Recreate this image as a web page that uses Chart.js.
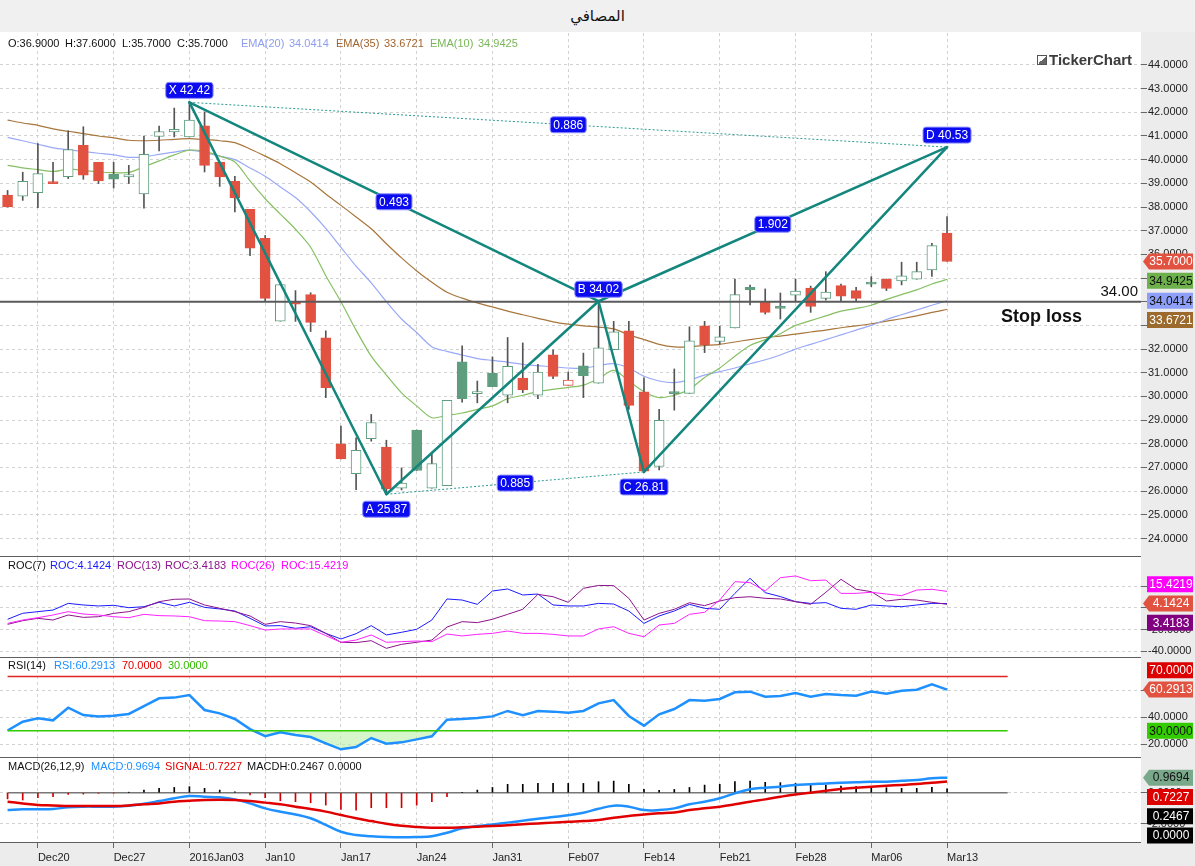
<!DOCTYPE html>
<html>
<head>
<meta charset="utf-8">
<title>المصافي</title>
<script src="https://cdn.jsdelivr.net/npm/chart.js@4.4.1/dist/chart.umd.min.js"></script>
<style>
  body { margin: 0; width: 1195px; height: 866px; position: relative; overflow: hidden; background: #fff; font-family: "Liberation Sans", Arial, sans-serif; }
  #title { position: absolute; left: 0; top: 0; width: 1195px; height: 32px; background: #f0f0f0; display: flex; align-items: center; justify-content: center; font: 15px "DejaVu Sans", sans-serif; color: #111; }
  #axisCol { position: absolute; left: 1141px; top: 32px; width: 54px; height: 834px; background: #ececec; }
  #xBand { position: absolute; left: 0; top: 842px; width: 1195px; height: 24px; background: #ececec; }
  .sep { position: absolute; left: 0; width: 1141px; height: 1px; background: #5f5f5f; }
  canvas { position: absolute; left: 0; }
  .hdr { position: absolute; left: 0; width: 1100px; height: 13px; font-size: 11px; line-height: 13px; white-space: nowrap; }
  .hdr span { position: absolute; top: 0; }
  #logo { position: absolute; left: 1037px; top: 51px; font: bold 15px "Liberation Sans", Arial, sans-serif; color: #3c3c3c; white-space: nowrap; }
  #logo i { display: inline-block; width: 8px; height: 8px; border: 1px solid #555; margin-right: 2px; background: linear-gradient(135deg, #fff 50%, #666 50%); }
</style>
</head>
<body>
<div id="title">المصافي</div>
<div id="axisCol"></div>
<div id="xBand"></div>
<canvas id="mainChart" width="1195" height="523" style="top:33px"></canvas>
<canvas id="rocChart" width="1195" height="100" style="top:557px"></canvas>
<canvas id="rsiChart" width="1195" height="99" style="top:658px"></canvas>
<canvas id="macdChart" width="1195" height="108" style="top:758px"></canvas>
<div class="sep" style="top:556px"></div>
<div class="sep" style="top:657px"></div>
<div class="sep" style="top:757px"></div>
<div class="sep" style="top:842px"></div>
<div class="hdr" id="hMain" style="top:37px"></div>
<div class="hdr" id="hRoc" style="top:559px"></div>
<div class="hdr" id="hRsi" style="top:659px"></div>
<div class="hdr" id="hMacd" style="top:760px"></div>
<div id="logo"><i></i>TickerChart</div>

<script>
// week ticks (index of first session of each week) and their labels
const dateTicks = [2, 7, 12, 17, 22, 27, 32, 37, 42, 47, 52, 57, 62];
const dateLabels = ['Dec20', 'Dec27', '2016Jan03', 'Jan10', 'Jan17', 'Jan24', 'Jan31', 'Feb07', 'Feb14', 'Feb21', 'Feb28', 'Mar06', 'Mar13'];

// daily candles
const openP = [38.5,38.46,38.61,39.06,39.28,40.61,39.89,39.38,39.27,38.55,
  40.98,41.17,40.96,41.43,39.9,39.08,37.9,36.68,33.18,34.0,
  34.3,32.47,28.0,26.74,28.22,27.86,26.13,28.58,26.13,26.23,
  31.46,30.12,30.99,30.05,30.78,30.05,31.76,30.47,31.29,30.56,
  31.97,32.77,30.19,27.04,30.19,30.13,32.98,32.32,32.89,34.61,
  34.0,33.79,34.28,34.58,34.14,34.68,34.47,34.81,34.96,34.88,
  34.95,35.34,36.9];
const highP = [38.7,39.47,40.68,39.89,41.22,41.39,39.89,39.89,39.76,41.0,
  41.42,42.18,42.42,42.02,39.9,39.3,37.9,36.8,34.85,34.47,
  34.38,32.77,28.75,28.25,29.24,28.15,26.98,28.58,27.64,29.83,
  32.14,30.65,31.67,32.49,32.26,31.36,31.97,31.03,31.83,34.02,
  33.17,33.17,30.79,29.45,31.16,32.94,33.17,32.97,34.96,34.7,
  34.54,34.37,34.96,34.66,35.27,34.75,34.61,35.06,34.96,35.67,
  35.67,36.47,37.6];
const lowP = [38.0,38.28,37.97,38.99,39.2,39.17,38.99,38.8,38.99,37.95,
  40.37,40.96,40.96,39.48,38.87,37.79,35.95,34.04,33.18,33.17,
  32.74,29.95,27.36,26.06,28.11,25.87,26.05,26.87,26.13,26.23,
  29.76,29.73,30.41,29.73,30.16,29.9,30.75,30.47,29.95,30.56,
  31.97,29.45,26.81,26.9,29.42,30.13,31.85,32.21,32.89,33.86,
  33.48,33.27,34.04,33.55,34.07,34.04,34.04,34.64,34.47,34.71,
  34.95,35.07,35.7];
const closeP = [38.0,39.08,39.41,38.99,40.43,39.35,39.1,39.18,39.37,40.23,
  41.19,41.28,41.67,39.76,39.27,38.38,36.26,34.14,34.72,33.9,
  33.13,30.37,27.36,27.72,28.9,26.09,26.34,26.87,27.16,29.83,
  29.91,30.19,30.41,31.27,30.27,31.03,30.84,30.69,30.88,32.05,
  32.73,29.62,26.84,28.99,30.12,32.35,32.18,32.52,34.3,34.5,
  33.55,33.72,34.45,33.8,34.41,34.23,34.14,34.74,34.56,35.09,
  35.27,36.37,35.7];

// moving averages
const ema20 = [40.94,40.8,40.65,40.5,40.42,40.35,40.27,40.2,40.1,40.12,
  40.22,40.32,40.4,40.3,40.15,40.0,39.65,39.3,38.85,38.4,
  37.8,37.1,36.3,35.5,34.8,34.0,33.27,32.7,32.1,31.9,
  31.75,31.6,31.52,31.45,31.35,31.3,31.25,31.2,31.19,31.3,
  31.38,31.2,30.85,30.65,30.58,30.7,30.9,31.05,31.2,31.38,
  31.55,31.75,32.0,32.2,32.4,32.6,32.8,33.0,33.25,33.45,
  33.65,33.85,34.0414];
const ema35 = [41.67,41.55,41.45,41.3,41.2,41.1,41.0,40.92,40.82,40.8,
  40.82,40.86,40.89,40.85,40.8,40.72,40.45,40.15,39.83,39.45,
  39.06,38.55,38.07,37.58,37.08,36.45,35.85,35.3,34.82,34.4,
  34.15,33.95,33.78,33.6,33.45,33.3,33.15,33.05,32.98,32.93,
  32.85,32.6,32.4,32.2,32.09,32.1,32.15,32.2,32.3,32.4,
  32.49,32.55,32.63,32.72,32.8,32.9,32.98,33.07,33.18,33.28,
  33.4,33.55,33.6721];
const ema10 = [39.76,39.65,39.58,39.5,39.6,39.55,39.48,39.45,39.46,39.7,
  39.95,40.2,40.4,40.35,40.15,39.9,39.1,38.35,37.7,37.06,
  36.3,35.1,34.0,32.8,31.7,30.9,30.15,29.6,29.1,29.2,
  29.3,29.45,29.6,29.9,30.05,30.2,30.3,30.38,30.48,30.75,
  31.1,30.65,30.2,29.95,30.05,30.3,30.8,31.2,31.7,32.15,
  32.4,32.65,33.0,33.2,33.4,33.6,33.72,33.85,34.1,34.3,
  34.5,34.75,34.9425];

// rate of change
const roc7 = [-10.5,-4.9,-3.4,-1.9,4.3,2.8,1.9,2.5,0.3,1.2,
  5.3,1.9,5.3,0.6,-0.9,-2.8,-9.6,-16.7,-16.4,-18.9,
  -17.4,-23.6,-28.8,-23.9,-16.4,-25.1,-22.6,-19.8,-11.2,8.4,
  7.4,3.4,15.8,17.7,12.1,13.0,2.8,1.9,1.9,4.3,
  3.7,-2.8,-14.3,-7.4,-2.8,3.4,-0.3,-1.2,13.6,27.6,
  14.3,10.6,5.9,4.3,5.0,-0.3,-1.2,2.8,1.9,1.2,
  2.8,4.3,4.1424];
const roc13 = [-15.2,-11.8,-9.6,-11.2,-6.5,-8.7,-8.1,-5.0,-3.4,0.6,
  5.9,8.1,8.4,2.8,-0.3,-3.4,-7.4,-15.2,-12.7,-14.0,
  -16.4,-23.6,-31.9,-32.2,-30.4,-37.5,-33.8,-31.9,-29.8,-17.7,
  -12.7,-13.6,-10.5,-5.9,-1.2,12.7,10.5,5.3,18.3,21.0,
  20.8,9.0,-11.2,-5.0,-1.2,4.9,2.2,6.5,9.6,10.5,
  9.0,8.4,5.9,3.4,14.6,26.7,17.4,15.2,6.5,8.1,
  7.4,5.3,3.4183];
const roc26 = [-14.3,-11.2,-9.0,-6.5,-3.4,-5.6,-6.5,-8.1,-9.0,-5.9,
  -7.1,-7.4,-8.1,-11.8,-12.1,-12.7,-16.4,-20.5,-19.5,-19.5,
  -19.5,-25.7,-31.9,-29.8,-25.1,-31.9,-31.3,-30.7,-31.3,-24.2,
  -26.0,-24.5,-23.6,-21.4,-23.6,-23.6,-24.5,-26.0,-26.0,-19.5,
  -17.4,-23.6,-26.7,-15.8,-14.3,-5.9,-4.0,7.4,24.5,23.6,
  15.8,28.2,29.8,25.4,26.0,13.6,13.6,14.6,13.0,11.5,
  16.7,17.4,15.4219];

// RSI
const rsi14 = [30.2,36.7,39.2,37.7,47.0,41.6,40.6,41.1,42.4,48.2,
  53.9,54.4,56.3,45.3,42.8,38.7,31.3,26.0,28.9,26.9,
  25.4,20.8,16.4,18.1,24.7,20.5,21.5,23.7,26.0,38.2,
  38.7,39.4,40.6,44.6,41.4,44.6,44.1,43.3,44.6,50.2,
  52.6,40.9,33.8,42.1,46.0,52.6,52.1,53.4,58.3,58.8,
  55.1,55.6,57.8,55.1,57.1,56.3,55.8,58.8,57.3,59.5,
  60.2,64.2,60.2913];
const rsiLevels = [70, 30];

// MACD
const macdLine = [-1.12,-1.07,-1.07,-1.05,-0.94,-0.9,-0.9,-0.9,-0.84,-0.71,
  -0.54,-0.36,-0.21,-0.26,-0.3,-0.43,-0.69,-1.01,-1.23,-1.4,
  -1.65,-2.08,-2.52,-2.73,-2.81,-2.86,-2.88,-2.86,-2.81,-2.58,
  -2.3,-2.15,-2.05,-1.93,-1.81,-1.68,-1.57,-1.46,-1.29,-1.04,
  -0.84,-0.9,-1.12,-1.12,-1.01,-0.75,-0.58,-0.36,-0.04,0.22,
  0.32,0.39,0.5,0.54,0.6,0.65,0.67,0.71,0.71,0.77,
  0.82,0.93,0.9694];
const signalLine = [-0.58,-0.69,-0.79,-0.82,-0.86,-0.86,-0.86,-0.86,-0.82,-0.75,
  -0.69,-0.58,-0.52,-0.47,-0.45,-0.47,-0.54,-0.64,-0.75,-0.9,
  -1.05,-1.22,-1.44,-1.65,-1.83,-2.0,-2.13,-2.21,-2.26,-2.26,
  -2.23,-2.19,-2.15,-2.1,-2.04,-1.98,-1.93,-1.87,-1.83,-1.76,
  -1.61,-1.5,-1.4,-1.33,-1.27,-1.12,-1.01,-0.9,-0.75,-0.58,
  -0.43,-0.26,-0.11,0.0,0.13,0.24,0.32,0.39,0.45,0.5,
  0.56,0.65,0.7227];
const macdHist = [-0.4,-0.47,-0.32,-0.26,-0.11,-0.09,-0.04,-0.02,0.02,0.17,
  0.28,0.34,0.39,0.28,0.17,0.06,-0.15,-0.32,-0.52,-0.58,
  -0.65,-0.8,-1.08,-1.12,-0.97,-0.97,-0.97,-0.8,-0.58,-0.26,
  0.02,0.17,0.34,0.54,0.54,0.6,0.6,0.6,0.6,0.71,
  0.75,0.54,0.21,0.15,0.21,0.34,0.49,0.54,0.71,0.75,
  0.67,0.65,0.6,0.54,0.49,0.43,0.39,0.39,0.32,0.28,
  0.28,0.34,0.2467];

// harmonic pattern points (session index / price)
const patternName = ['X', 'A', 'B', 'C', 'D'];
const patternIdx = [12, 25, 39, 42, 62];
const patternVal = [42.42, 25.87, 34.02, 26.81, 40.53];
const ratioLinks = [[0, 2, '0.493'], [2, 4, '1.902'], [0, 4, '0.886'], [1, 3, '0.885']];
const stopLoss = 34;

// axis ticks
const priceTicks = [24,25,26,27,28,29,30,31,32,33,34,35,36,37,38,39,40,41,42,43,44];
const rocTicks = [20, 0, -20, -40];
const rsiTicks = [20, 40, 60];
const macdTicks = [0, -2];

const X_MIN = -0.5, X_MAX = 74.8, LEVEL_END = 66;
const FONT = '"Liberation Sans", Arial, sans-serif';
const GRID = '#d2d2d2';
const last = closeP.length - 1;
const idx = closeP.map((_, i) => i);
const pts = arr => arr.map((v, i) => ({x: i, y: v}));
const hline = (v, x0, x1) => [{x: x0, y: v}, {x: x1, y: v}];

function header(id, items) {
  const el = document.getElementById(id);
  items.forEach(([x, text, color]) => {
    const s = document.createElement('span');
    s.style.left = x + 'px';
    s.style.color = color;
    s.textContent = text;
    el.appendChild(s);
  });
}
header('hMain', [
  [8, 'O:' + openP[last].toFixed(4), '#111'], [65, 'H:' + highP[last].toFixed(4), '#111'],
  [122, 'L:' + lowP[last].toFixed(4), '#111'], [177, 'C:' + closeP[last].toFixed(4), '#111'],
  [241, 'EMA(20)', '#8c9cf0'], [289, ema20[last].toFixed(4), '#8c9cf0'],
  [336, 'EMA(35)', '#a0642c'], [384, ema35[last].toFixed(4), '#a0642c'],
  [430, 'EMA(10)', '#79b657'], [478, ema10[last].toFixed(4), '#79b657']
]);
header('hRoc', [
  [8, 'ROC(7)', '#111'], [50, 'ROC:' + roc7[last].toFixed(4), '#1a1aff'],
  [117, 'ROC(13)', '#8b138b'], [165, 'ROC:' + roc13[last].toFixed(4), '#8b138b'],
  [231, 'ROC(26)', '#ff00ff'], [281, 'ROC:' + roc26[last].toFixed(4), '#ff00ff']
]);
header('hRsi', [
  [8, 'RSI(14)', '#111'], [54, 'RSI:' + rsi14[last].toFixed(4), '#1e90ff'],
  [122, rsiLevels[0].toFixed(4), '#e00000'], [168, rsiLevels[1].toFixed(4), '#33bb00']
]);
header('hMacd', [
  [8, 'MACD(26,12,9)', '#111'], [91, 'MACD:' + macdLine[last].toFixed(4), '#1e90ff'],
  [165, 'SIGNAL:' + signalLine[last].toFixed(4), '#e00000'], [247, 'MACDH:' + macdHist[last].toFixed(4), '#111'],
  [328, (0).toFixed(4), '#111']
]);

// no label overflow padding, so the plot area fills its canvas exactly
function noPad(s) {
  s.paddingTop = 0; s.paddingBottom = 0; s.paddingLeft = 0; s.paddingRight = 0;
}

function baseOptions(yMin, yMax, yTicks, showX) {
  return {
    responsive: false,
    animation: false,
    layout: {padding: 0, autoPadding: false},
    plugins: {legend: {display: false}, tooltip: {enabled: false}},
    scales: {
      x: {
        type: 'linear', min: X_MIN, max: X_MAX, offset: false,
        afterBuildTicks: s => { s.ticks = dateTicks.map(v => ({value: v})); },
        afterFit: s => { s.height = showX ? 24 : 0; noPad(s); },
        grid: {color: GRID, offset: false, drawTicks: showX, tickLength: 6, tickColor: '#666', tickBorderDash: [0, 0], tickWidth: 1},
        border: {display: false, dash: [3, 3]},
        ticks: {display: showX, autoSkip: false, maxRotation: 0, align: 'start', padding: 3, color: '#222',
          font: {family: FONT, size: 11}, callback: v => dateLabels[dateTicks.indexOf(v)]}
      },
      y: {
        position: 'right', min: yMin, max: yMax,
        afterBuildTicks: s => { s.ticks = yTicks.map(v => ({value: v})); },
        afterFit: s => { s.width = 54; noPad(s); },
        grid: {color: GRID, tickLength: 6, tickColor: '#666', tickBorderDash: [0, 0]},
        border: {display: false, dash: [3, 3]},
        ticks: {padding: 1, color: '#222', font: {family: FONT, size: 11}, callback: v => v.toFixed(4)}
      }
    }
  };
}

// value tags on the right axis; the arrow tag stays put, the others are pushed away from it
function tagPlugin(tags) {
  return {
    id: 'tags',
    afterDraw(chart) {
      const ctx = chart.ctx, ys = chart.scales.y, x0 = chart.chartArea.right;
      const items = tags.map(t => Object.assign({}, t, {py: ys.getPixelForValue(t.v)}));
      const fixed = items.find(t => t.arrow);
      const gap = 19.3;
      const above = items.filter(t => !t.arrow && t.py <= fixed.py).sort((a, b) => b.py - a.py);
      const below = items.filter(t => !t.arrow && t.py > fixed.py).sort((a, b) => a.py - b.py);
      let lim = fixed.py;
      above.forEach(t => { t.py = Math.min(t.py, lim - gap); lim = t.py; });
      lim = fixed.py;
      below.forEach(t => { t.py = Math.max(t.py, lim + gap); lim = t.py; });
      ctx.save();
      items.forEach(t => {
        const py = t.py;
        ctx.fillStyle = t.bg;
        ctx.beginPath();
        if (t.arrow) {
          ctx.moveTo(x0 + 2, py);
          ctx.lineTo(x0 + 8, py - 8);
          ctx.lineTo(x0 + 52, py - 8);
          ctx.lineTo(x0 + 52, py + 8);
          ctx.lineTo(x0 + 8, py + 8);
          ctx.closePath();
        } else {
          ctx.rect(x0 + 6, py - 8, 46, 16);
        }
        ctx.fill();
        ctx.fillStyle = t.fg;
        ctx.font = '12px ' + FONT;
        ctx.textAlign = 'center';
        ctx.textBaseline = 'middle';
        ctx.fillText(t.v.toFixed(4), x0 + 30, py + 0.5);
      });
      ctx.restore();
    }
  };
}

function blueBox(ctx, text, cx, cy) {
  ctx.font = '12px ' + FONT;
  const w = ctx.measureText(text).width + 6, h = 16;
  ctx.beginPath();
  ctx.roundRect(cx - w / 2, cy - h / 2, w, h, 3);
  ctx.fillStyle = '#0b0bef';
  ctx.fill();
  ctx.strokeStyle = '#8f90ff';
  ctx.lineWidth = 1;
  ctx.stroke();
  ctx.fillStyle = '#fff';
  ctx.textAlign = 'center';
  ctx.textBaseline = 'middle';
  ctx.fillText(text, cx, cy + 0.5);
}

const patternLabels = {
  id: 'patternLabels',
  afterDatasetsDraw(chart) {
    const {ctx, chartArea} = chart;
    const xs = chart.scales.x, ys = chart.scales.y;
    ctx.save();
    ratioLinks.forEach(([a, b, t]) => {
      const cx = (xs.getPixelForValue(patternIdx[a]) + xs.getPixelForValue(patternIdx[b])) / 2;
      const cy = (ys.getPixelForValue(patternVal[a]) + ys.getPixelForValue(patternVal[b])) / 2;
      blueBox(ctx, t, cx, cy);
    });
    patternIdx.forEach((p, k) => {
      const dir = k % 2 === 0 ? -12 : 15;
      blueBox(ctx, patternName[k] + ' ' + patternVal[k].toFixed(2), xs.getPixelForValue(p), ys.getPixelForValue(patternVal[k]) + dir);
    });
    const sy = ys.getPixelForValue(stopLoss);
    ctx.fillStyle = '#111';
    ctx.textBaseline = 'middle';
    ctx.textAlign = 'right';
    ctx.font = '15px ' + FONT;
    ctx.fillText(stopLoss.toFixed(2), chartArea.right - 3, sy - 10);
    ctx.font = 'bold 18px ' + FONT;
    ctx.fillText('Stop loss', chartArea.right - 59, sy + 15);
    ctx.restore();
  }
};

// main price panel
const upColor = '#5e9e7e', downColor = '#e25241';
const candleColor = closeP.map((c, i) => (i > 0 ? c >= closeP[i - 1] : c >= openP[i]) ? upColor : downColor);
const candleFill = closeP.map((c, i) => c > openP[i] ? '#ffffff' : candleColor[i]);
const teal = '#13867d';
const pt = k => ({x: patternIdx[k], y: patternVal[k]});
const patternLegs = [[0, 1], [1, 2], [2, 3], [3, 4], [0, 2], [2, 4]];
const dottedLegs = [[0, 4], [1, 3]];

new Chart(document.getElementById('mainChart'), {
  type: 'bar',
  data: {
    datasets: [
      {type: 'line', data: pts(ema35), borderColor: '#a8763c', borderWidth: 1.2, pointRadius: 0, tension: 0.3, order: 8},
      {type: 'line', data: pts(ema20), borderColor: '#9aa9f7', borderWidth: 1.2, pointRadius: 0, tension: 0.3, order: 7},
      {type: 'line', data: pts(ema10), borderColor: '#86c063', borderWidth: 1.2, pointRadius: 0, tension: 0.3, order: 6},
      {type: 'bar', data: idx.map(i => ({x: i, y: [lowP[i], highP[i]]})), backgroundColor: '#555', barThickness: 1, grouped: false, order: 5},
      {type: 'bar', data: idx.map(i => ({x: i, y: [openP[i], closeP[i]]})), backgroundColor: candleFill, borderColor: candleColor,
        borderWidth: 1, borderSkipped: false, barThickness: 10, minBarLength: 2, grouped: false, order: 4},
      {type: 'line', data: hline(stopLoss, X_MIN, X_MAX), borderColor: '#5a5a5a', borderWidth: 2, pointRadius: 0, order: 3},
      ...dottedLegs.map(([a, b]) => ({type: 'line', data: [pt(a), pt(b)], borderColor: '#2a9a90', borderWidth: 1, borderDash: [2, 2], pointRadius: 0, order: 2})),
      ...patternLegs.map(([a, b]) => ({type: 'line', data: [pt(a), pt(b)], borderColor: teal, borderWidth: 2.5, borderCapStyle: 'round', pointRadius: 0, order: 1}))
    ]
  },
  options: baseOptions(23.26, 45.35, priceTicks, false),
  plugins: [patternLabels, tagPlugin([
    {v: closeP[last], bg: downColor, fg: '#fff', arrow: true},
    {v: ema10[last], bg: '#6db04c', fg: '#111'},
    {v: ema20[last], bg: '#8e9ff9', fg: '#111'},
    {v: ema35[last], bg: '#9b6a2c', fg: '#fff'}
  ])]
});

// ROC panel
new Chart(document.getElementById('rocChart'), {
  type: 'line',
  data: {
    datasets: [
      {data: pts(roc26), borderColor: '#ff22ff', borderWidth: 1, pointRadius: 0},
      {data: pts(roc13), borderColor: '#8b138b', borderWidth: 1, pointRadius: 0},
      {data: pts(roc7), borderColor: '#1a1aff', borderWidth: 1, pointRadius: 0}
    ]
  },
  options: baseOptions(-45.58, 47.44, rocTicks, false),
  plugins: [tagPlugin([
    {v: roc26[last], bg: '#ff00ff', fg: '#fff'},
    {v: roc7[last], bg: downColor, fg: '#fff', arrow: true},
    {v: roc13[last], bg: '#800080', fg: '#fff'}
  ])]
});

// RSI panel
new Chart(document.getElementById('rsiChart'), {
  type: 'line',
  data: {
    datasets: [
      {data: hline(rsiLevels[0], 0, LEVEL_END), borderColor: '#e02424', borderWidth: 1.5, pointRadius: 0},
      {data: hline(rsiLevels[1], 0, LEVEL_END), borderColor: '#33cc00', borderWidth: 1.5, pointRadius: 0},
      {data: pts(rsi14), borderColor: '#1e90ff', borderWidth: 2.5, pointRadius: 0,
        fill: {target: {value: rsiLevels[1]}, above: 'rgba(0,0,0,0)', below: 'rgba(190,240,170,0.6)'}}
    ]
  },
  options: baseOptions(10.74, 83.53, rsiTicks, false),
  plugins: [tagPlugin([
    {v: rsiLevels[0], bg: '#dd0000', fg: '#fff'},
    {v: rsi14[last], bg: downColor, fg: '#fff', arrow: true},
    {v: rsiLevels[1], bg: '#33cc00', fg: '#111'}
  ])]
});

// MACD panel
new Chart(document.getElementById('macdChart'), {
  type: 'bar',
  data: {
    datasets: [
      {type: 'line', data: pts(signalLine), borderColor: '#e00000', borderWidth: 2.5, pointRadius: 0, tension: 0.4, order: 1},
      {type: 'line', data: pts(macdLine), borderColor: '#1e90ff', borderWidth: 2.5, pointRadius: 0, tension: 0.4, order: 2},
      {type: 'bar', data: pts(macdHist), backgroundColor: macdHist.map(v => v >= 0 ? '#000' : '#d00000'), barThickness: 1, grouped: false, order: 3},
      {type: 'line', data: hline(0, 0, LEVEL_END), borderColor: '#777', borderWidth: 1.5, pointRadius: 0, order: 4}
    ]
  },
  options: baseOptions(-3.18, 2.239, macdTicks, true),
  plugins: [tagPlugin([
    {v: macdLine[last], bg: '#7aa88a', fg: '#111', arrow: true},
    {v: signalLine[last], bg: '#dd0000', fg: '#fff'},
    {v: macdHist[last], bg: '#000', fg: '#fff'},
    {v: 0, bg: '#000', fg: '#fff'}
  ])]
});
</script>
</body>
</html>
